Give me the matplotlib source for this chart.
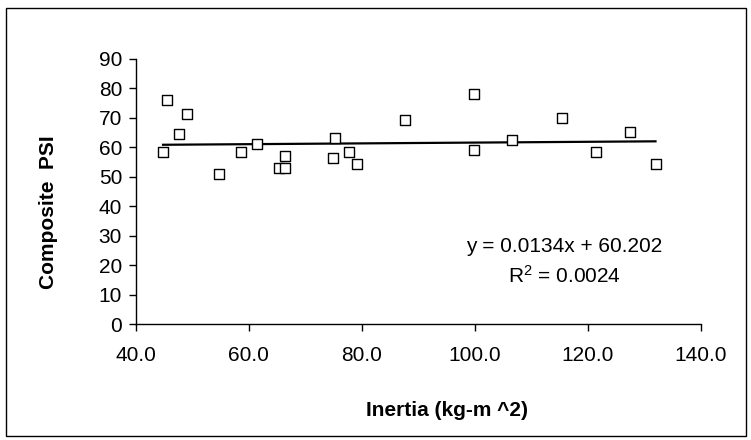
import matplotlib.pyplot as plt
from matplotlib.patches import Rectangle

# data
inertia = [44.8, 45.5, 47.7, 49.1, 54.7, 58.6, 61.4, 65.4, 66.4, 66.4, 74.9,
           75.2, 77.7, 79.1, 87.6, 99.9, 99.9, 106.6, 115.5, 121.5, 127.4, 132.0]
psi = [58.4, 75.9, 64.4, 71.2, 50.9, 58.4, 61.1, 53.0, 53.0, 57.0, 56.4,
       63.0, 58.4, 54.3, 69.3, 78.1, 59.1, 62.5, 70.0, 58.3, 65.2, 54.3]
slope = 0.0134
intercept = 60.202
r2 = 0.0024
x_ticks = [40, 60, 80, 100, 120, 140]
y_ticks = [0, 10, 20, 30, 40, 50, 60, 70, 80, 90]

plt.rcParams['font.family'] = ['Liberation Sans', 'DejaVu Sans']

fig = plt.figure(figsize=(7.51, 4.4), dpi=100)
ax = fig.add_axes([0.181, 0.2636, 0.752, 0.603])

ax.scatter(inertia, psi, marker='s', s=52, facecolors='white',
           edgecolors='black', linewidths=1.0, zorder=3)

x0, x1 = min(inertia), max(inertia)
ax.plot([x0, x1], [slope * x0 + intercept, slope * x1 + intercept],
        color='black', linewidth=1.6, zorder=2)

ax.set_xlim(40, 140)
ax.set_ylim(0, 90)
ax.set_xticks(x_ticks)
ax.set_xticklabels(['%.1f' % t for t in x_ticks])
ax.set_yticks(y_ticks)

for side in ['top', 'right']:
    ax.spines[side].set_visible(False)
for side in ['left', 'bottom']:
    ax.spines[side].set_linewidth(1.0)

ax.tick_params(axis='both', direction='out', length=5, width=1, labelsize=15)
ax.tick_params(axis='x', pad=11)
ax.tick_params(axis='y', pad=5)

ax.set_ylabel('Composite  PSI', fontsize=15, fontweight='bold')
ax.yaxis.set_label_coords(-0.138, 0.422)
ax.set_xlabel('Inertia (kg-m ^2)', fontsize=15, fontweight='bold')
ax.xaxis.set_label_coords(0.55, -0.29)

ax.text(0.759, 0.271, 'y = %.4fx + %.3f' % (slope, intercept),
        transform=ax.transAxes, ha='center', va='baseline', fontsize=15)
ax.text(0.759, 0.155, '$\\mathregular{R^2}$ = %.4f' % r2,
        transform=ax.transAxes, ha='center', va='baseline', fontsize=15)

fig.patches.append(Rectangle((0.008, 0.008), 0.986, 0.973, transform=fig.transFigure,
                             fill=False, edgecolor='black', linewidth=1.0))

fig.savefig('out.png', dpi=100)
